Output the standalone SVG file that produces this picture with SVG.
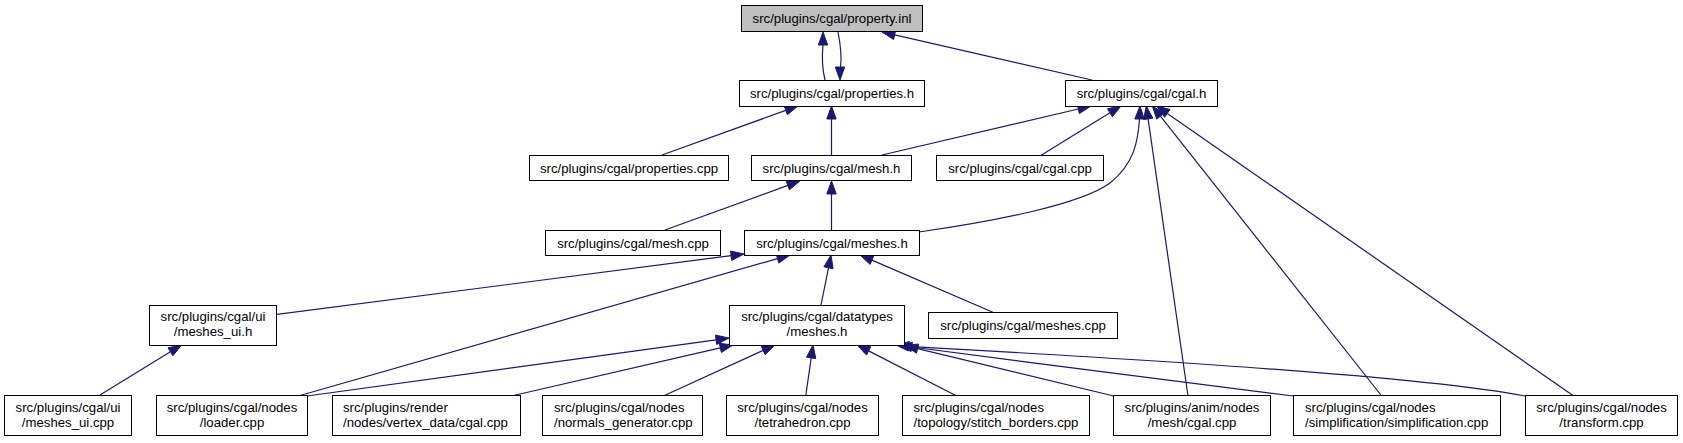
<svg xmlns="http://www.w3.org/2000/svg" width="1683" height="443" viewBox="0 0 1683 443">
<style>
.n rect{fill:#fff;stroke:#000;stroke-width:1}
.n text{font-family:"Liberation Sans",Arial,Helvetica,sans-serif;font-size:13.2px;fill:#000}
.c{text-anchor:middle}
#edges path{fill:none;stroke:#191970;stroke-width:1.2}
#edges polygon{fill:#191970;stroke:#191970;stroke-width:1}
</style>
<rect width="1683" height="443" fill="#fff"/>
<g id="edges">
<!-- properties.h -> property.inl -->
<path d="M825,80 C822,68 822,55 823,45"/>
<polygon points="823,32 818.3,45 827.7,45"/>
<!-- property.inl -> properties.h -->
<path d="M838,32 C840,42 842,56 840.5,67"/>
<polygon points="840,80 835.3,67 844.7,67"/>
<!-- cgal.h -> property.inl -->
<path d="M1092,80 L894.7,34.9"/>
<polygon points="882,32 893.6,39.5 895.7,30.3"/>
<!-- properties.cpp -> properties.h -->
<path d="M662,155 L785.8,110.4"/>
<polygon points="798,106 784.2,106 787.4,114.8"/>
<!-- mesh.h -> properties.h -->
<path d="M831.5,155 L831.5,119"/>
<polygon points="831.5,106 826.8,119 836.2,119"/>
<!-- mesh.h -> cgal.h -->
<path d="M882,155 L1078.3,109"/>
<polygon points="1091,106 1077.3,104.4 1079.4,113.6"/>
<!-- cgal.cpp -> cgal.h -->
<path d="M1040,156 L1109.9,112.8"/>
<polygon points="1121,106 1107.5,108.8 1112.4,116.8"/>
<!-- meshes.h -> cgal.h -->
<path d="M919,232 C990,222 1080,205 1110,183 C1135,163 1138,140 1139.5,119"/>
<polygon points="1140,106 1134.8,119 1144.2,119"/>
<!-- anim mesh/cgal.cpp -> cgal.h -->
<path d="M1188,396 L1148.1,118.9"/>
<polygon points="1146.3,106 1143.5,119.6 1152.8,118.2"/>
<!-- simplification -> cgal.h -->
<path d="M1381.7,396 L1160.4,116.2"/>
<polygon points="1152.3,106 1156.7,119.1 1164.1,113.3"/>
<!-- transform -> cgal.h -->
<path d="M1573.7,396 L1167.3,113.4"/>
<polygon points="1156.6,106 1164.6,117.3 1170,109.5"/>
<!-- mesh.cpp -> mesh.h -->
<path d="M665,230 L787.8,185.4"/>
<polygon points="800,181 786.2,181 789.4,189.8"/>
<!-- meshes.h -> mesh.h -->
<path d="M831.5,230 L831.5,194"/>
<polygon points="831.5,181 826.8,194 836.2,194"/>
<!-- meshes_ui.h -> meshes.h -->
<path d="M277,314.3 L731.1,255.7"/>
<polygon points="744,254 730.5,251 731.7,260.4"/>
<!-- loader.cpp -> meshes.h -->
<path d="M300,395.5 L777.5,258.6"/>
<polygon points="790,255 776.2,254.1 778.8,263.1"/>
<!-- datatypes/meshes.h -> meshes.h -->
<path d="M821,305 L828.5,267.8"/>
<polygon points="831,255 823.9,266.8 833.1,268.7"/>
<!-- meshes.cpp -> meshes.h -->
<path d="M994,312.7 L871.9,260.1"/>
<polygon points="860,255 870.1,264.4 873.8,255.8"/>
<!-- meshes_ui.cpp -> meshes_ui.h -->
<path d="M100,395 L170.4,351.8"/>
<polygon points="181.5,345 168,347.8 172.9,355.8"/>
<!-- loader.cpp -> datatypes/meshes.h -->
<path d="M307,396 L716.1,339.8"/>
<polygon points="729,338 715.5,335.1 716.7,344.5"/>
<!-- vertex_data -> datatypes/meshes.h -->
<path d="M513.5,395.5 L720.3,347.9"/>
<polygon points="733,345 719.3,343.3 721.4,352.5"/>
<!-- normals_generator -> datatypes/meshes.h -->
<path d="M663.3,396 L763.2,350.4"/>
<polygon points="775,345 761.2,346.1 765.1,354.7"/>
<!-- tetrahedron -> datatypes/meshes.h -->
<path d="M805.7,396 L811.2,357.9"/>
<polygon points="813,345 806.5,357.2 815.8,358.6"/>
<!-- stitch_borders -> datatypes/meshes.h -->
<path d="M956.7,396 L868.6,350.9"/>
<polygon points="857,345 866.5,355.1 870.7,346.7"/>
<!-- anim mesh/cgal.cpp -> datatypes/meshes.h -->
<path d="M1113.7,396 L917.6,348.6"/>
<polygon points="905,345.5 916.5,353.2 918.7,344"/>
<!-- simplification -> datatypes/meshes.h -->
<path d="M1293.3,396 C1180,382 1040,364 911.8,347"/>
<polygon points="899,345 911.1,351.6 912.5,342.4"/>
<!-- transform -> datatypes/meshes.h -->
<path d="M1525,396 C1420,376 1150,360 908.9,346.3"/>
<polygon points="896,345 908.4,351 909.4,341.6"/>
</g>
<g id="n_property_inl" class="n"><rect x="741.5" y="5.5" width="181" height="26" style="fill:#bfbfbf"/><text class="c" x="832" y="23">src/plugins/cgal/property.inl</text></g>
<g id="n_properties_h" class="n"><rect x="739.5" y="80.5" width="185" height="26"/><text class="c" x="832" y="98">src/plugins/cgal/properties.h</text></g>
<g id="n_cgal_h" class="n"><rect x="1065.5" y="80.5" width="152" height="26"/><text class="c" x="1141.5" y="98">src/plugins/cgal/cgal.h</text></g>
<g id="n_properties_cpp" class="n"><rect x="529.5" y="155.5" width="199" height="25"/><text class="c" x="629" y="172.5">src/plugins/cgal/properties.cpp</text></g>
<g id="n_mesh_h" class="n"><rect x="751.5" y="155.5" width="160" height="25"/><text class="c" x="831.5" y="172.5">src/plugins/cgal/mesh.h</text></g>
<g id="n_cgal_cpp" class="n"><rect x="936.5" y="155.5" width="167" height="25"/><text class="c" x="1020" y="172.5">src/plugins/cgal/cgal.cpp</text></g>
<g id="n_mesh_cpp" class="n"><rect x="545.5" y="230.5" width="175" height="25"/><text class="c" x="633" y="247.5">src/plugins/cgal/mesh.cpp</text></g>
<g id="n_meshes_h" class="n"><rect x="744.5" y="230.5" width="175" height="25"/><text class="c" x="832" y="247.5">src/plugins/cgal/meshes.h</text></g>
<g id="n_meshes_ui_h" class="n"><rect x="149.5" y="305.5" width="127" height="40"/><text class="c" x="213" y="321">src/plugins/cgal/ui</text><text class="c" x="213" y="336">/meshes_ui.h</text></g>
<g id="n_datatypes_meshes_h" class="n"><rect x="729.5" y="305.5" width="175" height="40"/><text class="c" x="817" y="321">src/plugins/cgal/datatypes</text><text class="c" x="817" y="336">/meshes.h</text></g>
<g id="n_meshes_cpp" class="n"><rect x="928.5" y="312.5" width="189" height="26"/><text class="c" x="1023" y="330">src/plugins/cgal/meshes.cpp</text></g>
<g id="n_meshes_ui_cpp" class="n"><rect x="4.5" y="395.5" width="127" height="40"/><text class="c" x="68" y="411.5">src/plugins/cgal/ui</text><text class="c" x="68" y="426.5">/meshes_ui.cpp</text></g>
<g id="n_loader_cpp" class="n"><rect x="156.5" y="395.5" width="151" height="40"/><text class="c" x="232" y="411.5">src/plugins/cgal/nodes</text><text class="c" x="232" y="426.5">/loader.cpp</text></g>
<g id="n_vertex_data_cgal_cpp" class="n"><rect x="332.5" y="395.5" width="188" height="40"/><text x="343" y="411.5">src/plugins/render</text><text x="343" y="426.5">/nodes/vertex_data/cgal.cpp</text></g>
<g id="n_normals_generator_cpp" class="n"><rect x="542.5" y="395.5" width="160" height="40"/><text x="554" y="411.5">src/plugins/cgal/nodes</text><text x="554" y="426.5">/normals_generator.cpp</text></g>
<g id="n_tetrahedron_cpp" class="n"><rect x="726.5" y="395.5" width="152" height="40"/><text class="c" x="802.5" y="411.5">src/plugins/cgal/nodes</text><text class="c" x="802.5" y="426.5">/tetrahedron.cpp</text></g>
<g id="n_stitch_borders_cpp" class="n"><rect x="902.5" y="395.5" width="187" height="40"/><text x="913.5" y="411.5">src/plugins/cgal/nodes</text><text x="913.5" y="426.5">/topology/stitch_borders.cpp</text></g>
<g id="n_anim_mesh_cgal_cpp" class="n"><rect x="1113.5" y="395.5" width="157" height="40"/><text class="c" x="1192" y="411.5">src/plugins/anim/nodes</text><text class="c" x="1192" y="426.5">/mesh/cgal.cpp</text></g>
<g id="n_simplification_cpp" class="n"><rect x="1293.5" y="395.5" width="207" height="40"/><text x="1305" y="411.5">src/plugins/cgal/nodes</text><text x="1305" y="426.5">/simplification/simplification.cpp</text></g>
<g id="n_transform_cpp" class="n"><rect x="1525.5" y="395.5" width="152" height="40"/><text class="c" x="1601.5" y="411.5">src/plugins/cgal/nodes</text><text class="c" x="1601.5" y="426.5">/transform.cpp</text></g>
</svg>
